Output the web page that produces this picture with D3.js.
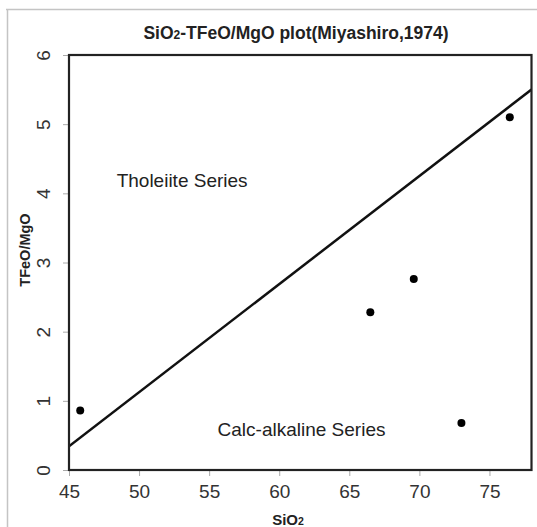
<!DOCTYPE html>
<html>
<head>
<meta charset="utf-8">
<script src="https://cdn.jsdelivr.net/npm/d3@7"></script>
<style>
  html, body { margin: 0; padding: 0; background: #fff; }
  svg { display: block; font-family: "Liberation Sans", Arial, sans-serif; }
</style>
</head>
<body>
<svg id="chart" width="537" height="527"></svg>
<script>
// ---- data ----
const sio2 = [45.8, 66.5, 69.6, 73.0, 76.45];
const tfeoMgo = [0.86, 2.28, 2.76, 0.68, 5.10];
const boundaryX = [45, 78];
const boundaryY = [0.344, 5.5];
const xTicks = [45, 50, 55, 60, 65, 70, 75];
const yTicks = [0, 1, 2, 3, 4, 5, 6];
const fieldLabels = ["Tholeiite Series", "Calc-alkaline Series"];
const fieldLabelX = [48.4, 55.6];
const fieldLabelY = [4.18, 0.58];

// ---- layout ----
const svg = d3.select("#chart");
const pL = 69, pR = 531.5, pT = 55, pB = 470;
const x = d3.scaleLinear().domain([45, 78]).range([pL, pR]);
const y = d3.scaleLinear().domain([0, 6]).range([pB, pT]);
const FONT = "Liberation Sans, Arial, sans-serif";

// outer image frame (scanned figure border)
svg.append("line").attr("x1", 6).attr("x2", 537).attr("y1", 9.5).attr("y2", 9.5)
  .attr("stroke", "#c4c4c4").attr("stroke-width", 1.5);
svg.append("line").attr("x1", 7.5).attr("x2", 7.5).attr("y1", 9).attr("y2", 527)
  .attr("stroke", "#c4c4c4").attr("stroke-width", 1.5);

// title
const title = svg.append("text")
  .attr("x", 296).attr("y", 39)
  .attr("text-anchor", "middle")
  .attr("font-weight", "bold").attr("font-size", 17.5).attr("fill", "#222");
title.append("tspan").text("SiO");
title.append("tspan").attr("font-size", 12).text("2");
title.append("tspan").text("-TFeO/MgO plot(Miyashiro,1974)");

// axes
const xAxis = d3.axisBottom(x).tickValues(xTicks).tickFormat(d3.format("d")).tickSize(6).tickPadding(9);
const gx = svg.append("g").attr("transform", `translate(0,${pB})`).call(xAxis);
gx.select(".domain").remove();
gx.selectAll(".tick line").attr("stroke", "#aaa").attr("stroke-width", 1);
gx.selectAll(".tick text").attr("font-size", 19).attr("fill", "#333").attr("font-family", FONT);

const yAxis = d3.axisLeft(y).tickValues(yTicks).tickFormat(d3.format("d")).tickSize(6).tickPadding(0);
const gy = svg.append("g").attr("transform", `translate(${pL},0)`).call(yAxis);
gy.select(".domain").remove();
gy.selectAll(".tick line").attr("stroke", "#aaa").attr("stroke-width", 1);
gy.selectAll(".tick text")
  .attr("font-size", 19).attr("fill", "#333").attr("font-family", FONT)
  .attr("text-anchor", "middle")
  .attr("x", 0).attr("dy", 0)
  .attr("transform", "translate(-26,0) rotate(-90)")
  .attr("dominant-baseline", "central");

// axis titles
const xt = svg.append("text").attr("x", 288).attr("y", 525)
  .attr("text-anchor", "middle").attr("font-weight", "bold").attr("font-size", 15).attr("fill", "#222");
xt.append("tspan").text("SiO");
xt.append("tspan").attr("font-size", 10.5).text("2");

svg.append("text")
  .attr("transform", `translate(30,${250}) rotate(-90)`)
  .attr("text-anchor", "middle").attr("font-weight", "bold").attr("font-size", 14.5).attr("fill", "#222")
  .text("TFeO/MgO");

// clip
svg.append("clipPath").attr("id", "plotclip").append("rect")
  .attr("x", pL).attr("y", pT).attr("width", pR - pL).attr("height", pB - pT);

// boundary line
const line = d3.line().x(d => x(d[0])).y(d => y(d[1]));
svg.append("path")
  .datum(d3.zip(boundaryX, boundaryY))
  .attr("d", line)
  .attr("clip-path", "url(#plotclip)")
  .attr("fill", "none").attr("stroke", "#111").attr("stroke-width", 2.5);

// field labels
svg.selectAll("text.field")
  .data(d3.zip(fieldLabels, fieldLabelX, fieldLabelY))
  .join("text").attr("class", "field")
  .attr("x", d => x(d[1])).attr("y", d => y(d[2]))
  .attr("dominant-baseline", "central")
  .attr("font-size", 19).attr("fill", "#222")
  .text(d => d[0]);

// points
svg.selectAll("circle.pt")
  .data(d3.zip(sio2, tfeoMgo))
  .join("circle").attr("class", "pt")
  .attr("cx", d => x(d[0])).attr("cy", d => y(d[1]))
  .attr("r", 4).attr("fill", "#000");

// plot frame
svg.append("rect")
  .attr("x", pL).attr("y", pT).attr("width", pR - pL).attr("height", pB - pT)
  .attr("fill", "none").attr("stroke", "#222").attr("stroke-width", 2.2);
</script>
</body>
</html>
